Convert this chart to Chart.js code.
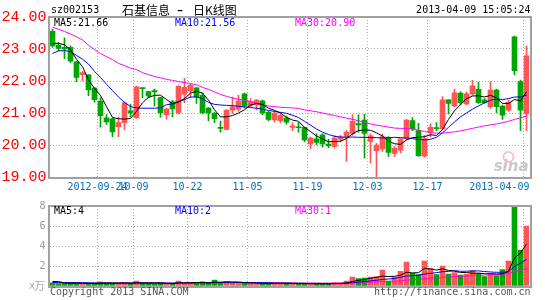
<!DOCTYPE html>
<html>
<head>
<meta charset="utf-8">
<script src="https://cdn.jsdelivr.net/npm/chart.js@4.4.1/dist/chart.umd.min.js"></script>
<style>
  html, body { margin: 0; padding: 0; background: #fff; }
  #wrap { position: relative; width: 545px; height: 300px; overflow: hidden; }
  canvas { position: absolute; left: 0; }
  #price { top: 0; }
  #volume { top: 196px; }
</style>
</head>
<body>
<div id="wrap">
  <canvas id="price" width="545" height="196"></canvas>
  <canvas id="volume" width="545" height="104"></canvas>
</div>
<script>
const stockCode = "sz002153";
const chartTitle = "石基信息 - 日K线图";
const timeStamp = "2013-04-09 15:05:24";

const dates = [
  "2012-09-12", "2012-09-13", "2012-09-14", "2012-09-17", "2012-09-18", "2012-09-19", "2012-09-20", "2012-09-21",
  "2012-09-24", "2012-09-25", "2012-09-26", "2012-09-27", "2012-09-28", "2012-10-08", "2012-10-09", "2012-10-10",
  "2012-10-11", "2012-10-12", "2012-10-15", "2012-10-16", "2012-10-17", "2012-10-18", "2012-10-19", "2012-10-22",
  "2012-10-23", "2012-10-24", "2012-10-25", "2012-10-26", "2012-10-29", "2012-10-30", "2012-10-31", "2012-11-01",
  "2012-11-02", "2012-11-05", "2012-11-06", "2012-11-07", "2012-11-08", "2012-11-09", "2012-11-12", "2012-11-13",
  "2012-11-14", "2012-11-15", "2012-11-16", "2012-11-19", "2012-11-20", "2012-11-21", "2012-11-22", "2012-11-23",
  "2012-11-26", "2012-11-27", "2012-11-28", "2012-11-29", "2012-11-30", "2012-12-03", "2012-12-04", "2012-12-05",
  "2012-12-06", "2012-12-07", "2012-12-10", "2012-12-11", "2012-12-12", "2012-12-13", "2012-12-14", "2012-12-17",
  "2012-12-18", "2012-12-19", "2012-12-20", "2012-12-21", "2012-12-24", "2012-12-25", "2012-12-26", "2012-12-27",
  "2012-12-28", "2012-12-31", "2013-01-04", "2013-01-07", "2013-01-08", "2013-04-03", "2013-04-08", "2013-04-09",
];

// dates that get a grid line + label, and the text shown for them
const tickDates = ["2012-09-24", "2012-10-09", "2012-10-22", "2012-11-05", "2012-11-19", "2012-12-03", "2012-12-17", "2013-04-09"];
const tickLabels = ["2012-09-24", "10-09", "10-22", "11-05", "11-19", "12-03", "12-17", "2013-04-09"];

const opens = [
  23.55, 23.12, 23.05, 23.05, 22.60, 22.20, 22.19, 21.78,
  21.37, 20.85, 20.82, 20.57, 20.70, 21.07, 20.85, 21.78,
  21.67, 21.70, 21.48, 20.94, 21.35, 21.00, 21.59, 21.69,
  21.79, 21.55, 21.15, 20.99, 20.55, 20.49, 21.09, 21.12,
  21.60, 21.22, 21.25, 21.38, 21.02, 20.78, 20.76, 20.84,
  20.55, 20.56, 20.55, 20.03, 20.19, 20.32, 20.03, 19.95,
  20.18, 20.26, 20.36, 20.67, 20.78, 20.11, 19.82, 19.88,
  20.24, 19.74, 19.84, 20.20, 20.76, 20.45, 19.65, 20.40,
  20.53, 20.50, 21.41, 21.22, 21.62, 21.28, 21.60, 21.74,
  21.41, 21.20, 21.72, 21.22, 21.09, 23.38, 21.98, 20.97,
];
const highs = [
  23.62, 23.20, 23.35, 23.10, 22.62, 22.30, 22.20, 21.80,
  21.48, 20.95, 20.83, 20.87, 21.35, 21.28, 21.84, 21.78,
  21.68, 21.75, 21.50, 21.15, 21.40, 21.86, 22.08, 21.90,
  21.80, 21.62, 21.18, 21.02, 20.75, 21.10, 21.50, 21.55,
  21.62, 21.45, 21.42, 21.40, 21.05, 21.04, 20.98, 20.90,
  20.70, 20.70, 20.56, 20.25, 20.35, 20.35, 20.18, 20.30,
  20.30, 20.45, 20.94, 20.94, 20.96, 20.35, 20.05, 20.34,
  20.26, 19.95, 20.20, 20.80, 20.86, 20.68, 20.30, 20.66,
  20.70, 21.51, 21.42, 21.75, 21.66, 21.65, 22.02, 21.97,
  21.45, 21.98, 21.75, 21.25, 21.40, 23.40, 22.03, 23.10,
];
const lows = [
  23.05, 22.95, 22.70, 22.58, 21.98, 22.00, 21.54, 21.34,
  20.56, 20.64, 20.26, 20.26, 20.48, 20.88, 20.84, 21.48,
  21.47, 21.22, 20.87, 20.81, 20.88, 20.97, 21.32, 21.48,
  21.30, 20.97, 20.75, 20.70, 20.40, 20.48, 20.98, 21.05,
  21.15, 21.20, 21.10, 20.95, 20.75, 20.72, 20.70, 20.65,
  20.45, 20.40, 20.10, 19.88, 20.00, 19.93, 19.92, 19.90,
  20.10, 19.49, 20.30, 20.40, 19.60, 19.43, 19.01, 19.80,
  19.64, 19.64, 19.75, 20.15, 20.45, 19.64, 19.62, 20.25,
  20.45, 20.48, 20.97, 21.20, 21.25, 21.25, 21.55, 21.30,
  21.30, 21.15, 21.00, 20.80, 21.05, 22.19, 20.45, 20.45,
];
const closes = [
  23.10, 23.02, 23.00, 22.62, 22.11, 22.26, 21.72, 21.42,
  20.92, 20.72, 20.41, 20.70, 21.32, 21.00, 21.82, 21.76,
  21.53, 21.66, 21.01, 21.13, 21.13, 21.84, 21.80, 21.87,
  21.50, 21.01, 21.00, 20.82, 20.52, 21.09, 21.19, 21.38,
  21.22, 21.36, 21.40, 21.00, 20.80, 21.00, 20.93, 20.71,
  20.60, 20.54, 20.16, 20.22, 20.08, 20.03, 19.98, 20.22,
  20.25, 20.40, 20.74, 20.63, 20.36, 20.29, 20.00, 20.26,
  19.77, 19.90, 20.19, 20.78, 20.50, 19.67, 20.20, 20.55,
  20.51, 21.41, 21.30, 21.63, 21.32, 21.60, 21.85, 21.32,
  21.32, 21.72, 21.20, 20.93, 21.33, 22.32, 21.09, 22.79,
];

const ma5 = [
  23.17, 23.18, 23.13, 22.98, 22.68, 22.45, 22.03, 21.77,
  21.55, 21.20, 20.86, 20.82, 20.81, 20.83, 21.05, 21.32,
  21.49, 21.55, 21.56, 21.42, 21.29, 21.35, 21.45, 21.62,
  21.68, 21.62, 21.40, 21.10, 20.88, 20.88, 20.92, 21.00,
  21.10, 21.25, 21.30, 21.27, 21.15, 21.08, 21.00, 20.86,
  20.78, 20.74, 20.55, 20.42, 20.28, 20.19, 20.10, 20.11,
  20.12, 20.20, 20.35, 20.45, 20.47, 20.46, 20.38, 20.28,
  20.12, 20.04, 20.02, 20.16, 20.23, 20.24, 20.26, 20.32,
  20.30, 20.48, 20.80, 21.07, 21.26, 21.45, 21.53, 21.54,
  21.50, 21.55, 21.47, 21.30, 21.30, 21.42, 21.38, 21.66,
];
const ma10 = [
  22.86, 22.94, 22.95, 22.92, 22.80, 22.68, 22.53, 22.30,
  22.11, 21.90, 21.70, 21.50, 21.33, 21.20, 21.16, 21.15,
  21.15, 21.15, 21.16, 21.26, 21.28, 21.35, 21.42, 21.50,
  21.50, 21.45, 21.33, 21.27, 21.25, 21.24, 21.23, 21.21,
  21.19, 21.17, 21.15, 21.12, 21.08, 21.05, 21.02, 20.99,
  20.93, 20.86, 20.74, 20.62, 20.50, 20.40, 20.33, 20.27,
  20.25, 20.24, 20.25, 20.24, 20.24, 20.23, 20.23, 20.22,
  20.23, 20.24, 20.23, 20.22, 20.20, 20.17, 20.16, 20.18,
  20.24, 20.38, 20.55, 20.72, 20.88, 21.00, 21.12, 21.22,
  21.32, 21.40, 21.44, 21.42, 21.45, 21.50, 21.50, 21.56,
];
const ma30 = [
  23.68, 23.62, 23.55, 23.47, 23.38, 23.28, 23.12, 22.98,
  22.86, 22.76, 22.67, 22.55, 22.48, 22.40, 22.36, 22.26,
  22.20, 22.14, 22.10, 22.05, 22.02, 21.98, 21.95, 21.92,
  21.88, 21.80, 21.74, 21.66, 21.58, 21.52, 21.47, 21.43,
  21.40, 21.36, 21.30, 21.25, 21.22, 21.20, 21.18, 21.17,
  21.16, 21.14, 21.10, 21.07, 21.04, 21.00, 20.96, 20.92,
  20.88, 20.84, 20.80, 20.76, 20.70, 20.66, 20.62, 20.59,
  20.56, 20.53, 20.52, 20.52, 20.50, 20.46, 20.42, 20.39,
  20.37, 20.37, 20.39, 20.41, 20.44, 20.48, 20.52, 20.56,
  20.60, 20.63, 20.66, 20.70, 20.74, 20.80, 20.85, 20.90,
];

// volume in 万 (x万 on the axis)
const volumes = [
  0.32, 0.25, 0.28, 0.26, 0.30, 0.22, 0.28, 0.25,
  0.40, 0.30, 0.28, 0.25, 0.30, 0.24, 0.50, 0.28,
  0.26, 0.22, 0.30, 0.24, 0.25, 0.50, 0.30, 0.28,
  0.27, 0.42, 0.30, 0.60, 0.30, 0.45, 0.35, 0.25,
  0.30, 0.28, 0.25, 0.26, 0.25, 0.30, 0.32, 0.25,
  0.22, 0.20, 0.24, 0.22, 0.20, 0.22, 0.20, 0.35,
  0.30, 0.50, 0.90, 0.73, 0.80, 0.90, 0.95, 1.60,
  0.50, 0.90, 1.46, 2.40, 1.27, 1.15, 2.50, 1.75,
  1.15, 2.00, 1.18, 1.34, 1.10, 1.18, 1.56, 1.27,
  0.95, 1.20, 1.05, 1.65, 2.50, 8.60, 3.57, 6.00,
];
const volMa5 = [
  0.45, 0.44, 0.30, 0.28, 0.28, 0.27, 0.26, 0.26,
  0.29, 0.30, 0.30, 0.30, 0.31, 0.28, 0.32, 0.31,
  0.31, 0.30, 0.31, 0.26, 0.25, 0.31, 0.32, 0.33,
  0.34, 0.35, 0.31, 0.38, 0.38, 0.41, 0.40, 0.39,
  0.33, 0.31, 0.29, 0.27, 0.27, 0.27, 0.28, 0.28,
  0.27, 0.26, 0.25, 0.23, 0.22, 0.22, 0.22, 0.24,
  0.26, 0.31, 0.45, 0.56, 0.65, 0.77, 0.86, 0.99,
  0.95, 0.97, 1.08, 1.37, 1.31, 1.34, 1.76, 1.71,
  1.60, 1.71, 1.56, 1.48, 1.35, 1.35, 1.27, 1.29,
  1.23, 1.23, 1.21, 1.22, 1.47, 2.80, 3.30, 4.20,
];
const volMa10 = [
  0.36, 0.36, 0.35, 0.35, 0.34, 0.33, 0.31, 0.29,
  0.28, 0.28, 0.28, 0.28, 0.29, 0.29, 0.30, 0.30,
  0.30, 0.30, 0.30, 0.29, 0.28, 0.31, 0.31, 0.30,
  0.32, 0.33, 0.31, 0.34, 0.35, 0.37, 0.37, 0.37,
  0.36, 0.35, 0.35, 0.33, 0.33, 0.30, 0.29, 0.28,
  0.27, 0.26, 0.26, 0.25, 0.25, 0.25, 0.24, 0.24,
  0.25, 0.27, 0.33, 0.39, 0.45, 0.51, 0.57, 0.66,
  0.70, 0.76, 0.87, 1.00, 1.03, 1.08, 1.20, 1.26,
  1.34, 1.43, 1.46, 1.54, 1.47, 1.48, 1.49, 1.51,
  1.45, 1.40, 1.37, 1.38, 1.42, 1.95, 2.30, 2.65,
];
const volMa30 = [
  0.31, 0.31, 0.31, 0.31, 0.31, 0.30, 0.30, 0.30,
  0.30, 0.30, 0.29, 0.30, 0.30, 0.30, 0.30, 0.30,
  0.31, 0.30, 0.30, 0.30, 0.29, 0.30, 0.30, 0.30,
  0.31, 0.31, 0.31, 0.32, 0.32, 0.32, 0.32, 0.32,
  0.32, 0.31, 0.31, 0.31, 0.31, 0.31, 0.31, 0.31,
  0.31, 0.30, 0.30, 0.30, 0.30, 0.29, 0.29, 0.29,
  0.29, 0.30, 0.32, 0.34, 0.36, 0.38, 0.41, 0.45,
  0.46, 0.48, 0.52, 0.59, 0.62, 0.66, 0.73, 0.78,
  0.81, 0.87, 0.90, 0.94, 0.97, 1.00, 1.04, 1.07,
  1.09, 1.12, 1.14, 1.18, 1.24, 1.46, 1.57, 1.77,
];

const UP = "#FF5555";
const DOWN = "#00A600";
const GRID = "#ABABAB";
const FRAME = "#A0A0A0";
const MONO = '10px "DejaVu Sans Mono", monospace';
const CJK = '"Noto Sans CJK SC", sans-serif';

const candleColors = closes.map((c, i) => (c >= opens[i] ? UP : DOWN));
const tickIndexes = tickDates.map((d) => dates.indexOf(d));

function verticalGrid(context) {
  return tickIndexes.includes(context.index) ? GRID : "rgba(0,0,0,0)";
}

function lineSet(label, data, color) {
  return {
    type: "line",
    label,
    data,
    borderColor: color,
    borderWidth: 1,
    pointRadius: 0,
    tension: 0,
    fill: false,
    order: 1,
  };
}

const framePlugin = {
  id: "frame",
  afterDatasetsDraw(chart) {
    const { ctx, chartArea: a } = chart;
    const x0 = Math.floor(a.left) - 1;
    const x1 = Math.ceil(a.right);
    const y0 = Math.round(a.top) - 1;
    const y1 = Math.round(a.bottom);
    ctx.save();
    ctx.fillStyle = FRAME;
    ctx.fillRect(x0, y0, x1 - x0 + 2, 2);
    ctx.fillRect(x0, y1, x1 - x0 + 2, 2);
    ctx.fillRect(x0, y0, 2, y1 - y0 + 2);
    ctx.fillRect(x1, y0, 2, y1 - y0 + 2);
    ctx.restore();
  },
};

function drawLegend(ctx, items, y) {
  ctx.font = MONO;
  ctx.textAlign = "left";
  ctx.textBaseline = "middle";
  items.forEach(([text, color, x]) => {
    ctx.fillStyle = color;
    ctx.fillText(text, x, y);
  });
}

const priceTextPlugin = {
  id: "priceText",
  beforeDatasetsDraw(chart) {
    // faint sina watermark in the bottom right corner of the plot
    const { ctx, chartArea: a } = chart;
    ctx.save();
    ctx.strokeStyle = "#F3C4C4";
    ctx.lineWidth = 2;
    ctx.beginPath();
    ctx.arc(a.right - 21, a.bottom - 20, 5, 0, Math.PI * 2);
    ctx.stroke();
    ctx.fillStyle = "#C9C9C9";
    ctx.font = 'italic bold 15px "DejaVu Sans", sans-serif';
    ctx.textAlign = "right";
    ctx.textBaseline = "alphabetic";
    ctx.fillText("sina", a.right - 1, a.bottom - 6);
    ctx.restore();
  },
  afterDraw(chart) {
    const { ctx, chartArea: a, scales } = chart;
    ctx.save();
    ctx.textBaseline = "middle";
    ctx.fillStyle = "#000000";
    ctx.font = MONO;
    ctx.textAlign = "left";
    ctx.fillText(stockCode, 51, 10);

    // title: name, dash and chart type spaced out like the original
    const [name, kind] = chartTitle.split(" - ");
    ctx.font = "12px " + CJK;
    ctx.fillText(name, 122, 10);
    ctx.fillText(kind, 193, 10);
    ctx.font = '17px "Liberation Mono", monospace';
    ctx.textAlign = "center";
    ctx.fillText("-", 180, 10);

    ctx.font = MONO;
    ctx.textAlign = "right";
    ctx.fillText(timeStamp, a.right + 1, 10);

    drawLegend(ctx, [
      ["MA5:" + ma5[ma5.length - 1].toFixed(2), "#000000", 54],
      ["MA10:" + ma10[ma10.length - 1].toFixed(2), "#0000FF", 175],
      ["MA30:" + ma30[ma30.length - 1].toFixed(2), "#FF00FF", 295],
    ], a.top + 6);

    // date labels under the grid lines, kept inside the plot width
    const xs = scales.x;
    const half = (xs.getPixelForValue(1) - xs.getPixelForValue(0)) / 2;
    ctx.font = MONO;
    ctx.fillStyle = "#0070C0";
    ctx.textAlign = "center";
    tickIndexes.forEach((idx, k) => {
      const w = ctx.measureText(tickLabels[k]).width;
      let cx = xs.getPixelForValue(idx) - half;
      cx = Math.min(Math.max(cx, a.left + w / 2), a.right - w / 2);
      ctx.fillText(tickLabels[k], cx, a.bottom + 10);
    });
    ctx.restore();
  },
};

const volumeTextPlugin = {
  id: "volumeText",
  afterDraw(chart) {
    const { ctx, chartArea: a } = chart;
    ctx.save();
    drawLegend(ctx, [
      ["MA5:" + Math.floor(volMa5[volMa5.length - 1]), "#000000", 54],
      ["MA10:" + Math.floor(volMa10[volMa10.length - 1]), "#0000FF", 175],
      ["MA30:" + Math.floor(volMa30[volMa30.length - 1]), "#FF00FF", 295],
    ], a.top + 5);

    ctx.fillStyle = "#A8A8A8";
    ctx.textAlign = "left";
    ctx.font = MONO;
    ctx.fillText("x", 29, a.bottom);
    ctx.font = "11px " + CJK;
    ctx.fillText("万", 34, a.bottom);

    ctx.fillStyle = "#555555";
    ctx.font = MONO;
    ctx.fillText("Copyright 2013 SINA.COM", 50, a.bottom + 6);
    ctx.textAlign = "right";
    ctx.fillText("http://finance.sina.com.cn", a.right + 1, a.bottom + 6);
    ctx.restore();
  },
};

function xScale() {
  return {
    offset: true,
    ticks: { display: false },
    grid: { offset: true, drawTicks: false, color: verticalGrid, lineWidth: 1 },
    border: { display: false, dash: [1, 2] },
    afterFit(scale) {
      scale.paddingLeft = 0;
      scale.paddingRight = 0;
    },
  };
}

new Chart(document.getElementById("price"), {
  type: "bar",
  data: {
    labels: dates,
    datasets: [
      lineSet("MA5", ma5, "#000000"),
      lineSet("MA10", ma10, "#0000FF"),
      lineSet("MA30", ma30, "#FF00FF"),
      {
        label: "body",
        data: opens.map((o, i) => [o, closes[i]]),
        backgroundColor: candleColors,
        barThickness: 5,
        minBarLength: 1,
        grouped: false,
        order: 2,
      },
      {
        label: "wick",
        data: lows.map((l, i) => [l, highs[i]]),
        backgroundColor: candleColors,
        barThickness: 1,
        grouped: false,
        order: 3,
      },
    ],
  },
  options: {
    responsive: false,
    animation: false,
    devicePixelRatio: 1,
    layout: { padding: { top: 17, right: 15.5, bottom: 19, left: 0 } },
    plugins: { legend: { display: false }, tooltip: { enabled: false } },
    scales: {
      x: xScale(),
      y: {
        min: 19,
        max: 24,
        afterFit(scale) {
          scale.width = 49.5;
        },
        ticks: {
          stepSize: 0.5,
          color: "#FF0000",
          font: { family: '"Liberation Mono", monospace', size: 15 },
          padding: 3,
          callback: (v) => Number(v).toFixed(2),
        },
        grid: { drawTicks: false, color: GRID },
        border: { display: false, dash: [1, 2] },
      },
    },
  },
  plugins: [framePlugin, priceTextPlugin],
});

new Chart(document.getElementById("volume"), {
  type: "bar",
  data: {
    labels: dates,
    datasets: [
      lineSet("MA5", volMa5, "#000000"),
      lineSet("MA10", volMa10, "#0000FF"),
      lineSet("MA30", volMa30, "#FF00FF"),
      {
        label: "volume",
        data: volumes,
        backgroundColor: candleColors,
        barThickness: 5,
        grouped: false,
        order: 2,
      },
    ],
  },
  options: {
    responsive: false,
    animation: false,
    devicePixelRatio: 1,
    layout: { padding: { top: 6, right: 15.5, bottom: 14, left: 0 } },
    plugins: { legend: { display: false }, tooltip: { enabled: false } },
    scales: {
      x: xScale(),
      y: {
        min: 0,
        max: 8,
        afterFit(scale) {
          scale.width = 49.5;
        },
        ticks: {
          stepSize: 2,
          color: "#999999",
          font: { family: '"DejaVu Sans Mono", monospace', size: 10 },
          padding: 4,
          callback: (v) => (v === 0 ? "" : String(v)),
        },
        grid: { drawTicks: false, color: GRID },
        border: { display: false, dash: [1, 2] },
      },
    },
  },
  plugins: [framePlugin, volumeTextPlugin],
});
</script>
</body>
</html>
